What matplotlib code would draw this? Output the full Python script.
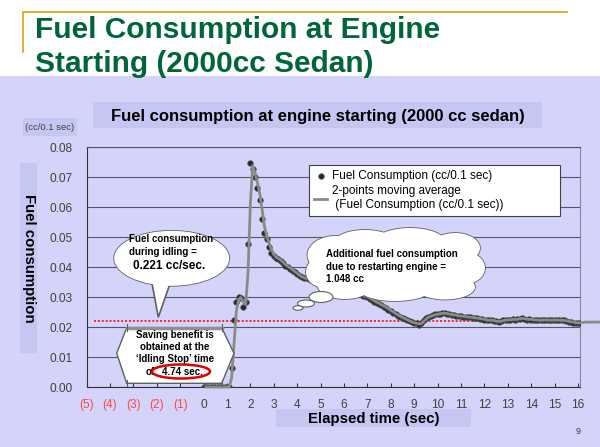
import numpy as np
import pandas as pd
import matplotlib
matplotlib.use('Agg')
import matplotlib.pyplot as plt
from matplotlib.patches import Rectangle, Ellipse, Polygon

plt.rcParams['font.family'] = ['Liberation Sans', 'DejaVu Sans']

# fuel consumption per 0.1 sec sample, starting at t = 0.0 s
fuel = [
    0, 0, 0, 0, 0, 0, 0, 0, 0, 0, 0, 0,                                   # 0.0 - 1.1
    0.0062, 0.0222, 0.0284, 0.0300, 0.0296, 0.0268, 0.0284, 0.0477,       # 1.2 - 1.9
    0.0748, 0.0728, 0.0700, 0.0665, 0.0625, 0.0560, 0.0512, 0.0492, 0.0468, 0.0448,  # 2.x
    0.0437, 0.0430, 0.0426, 0.0420, 0.0412, 0.0405, 0.0400, 0.0394, 0.0388, 0.0382,  # 3.x
    0.0376, 0.0370, 0.0366, 0.0362, 0.0362, 0.0360, 0.0358, 0.0355, 0.0354, 0.0353,  # 4.x
    0.0352, 0.0351, 0.0350, 0.0349, 0.0347, 0.0345, 0.0343, 0.0340, 0.0337, 0.0334,  # 5.x
    0.0331, 0.0328, 0.0325, 0.0322, 0.0319, 0.0316, 0.0312, 0.0309, 0.0305, 0.0302,  # 6.x
    0.0299, 0.0294, 0.0290, 0.0285, 0.0281, 0.0277, 0.0272, 0.0268, 0.0264, 0.0258,  # 7.x
    0.0253, 0.0248, 0.0243, 0.0238, 0.0234, 0.0230, 0.0226, 0.0222, 0.0219, 0.0216,  # 8.x
    0.0212, 0.0214, 0.0207, 0.0215, 0.0222, 0.0230, 0.0235, 0.0236, 0.0240, 0.0242,  # 9.x
    0.0243, 0.0245, 0.0246, 0.0246, 0.0244, 0.0242, 0.0241, 0.0240, 0.0238, 0.0236,  # 10.x
    0.0237, 0.0235, 0.0234, 0.0233, 0.0232, 0.0231, 0.0230, 0.0229, 0.0228, 0.0227,  # 11.x
    0.0224, 0.0223, 0.0222, 0.0224, 0.0220, 0.0219, 0.0218, 0.0220, 0.0222, 0.0224,  # 12.x
    0.0223, 0.0225, 0.0226, 0.0224, 0.0227, 0.0228, 0.0229, 0.0227, 0.0225, 0.0226,  # 13.x
    0.0225, 0.0224, 0.0223, 0.0223, 0.0222, 0.0224, 0.0223, 0.0224, 0.0222, 0.0223,  # 14.x
    0.0224, 0.0223, 0.0222, 0.0223, 0.0222, 0.0220, 0.0218, 0.0217, 0.0215, 0.0214,  # 15.x
    0.0213, 0.0214, 0.0216, 0.0217, 0.0216, 0.0216, 0.0217, 0.0216, 0.0216, 0.0217,  # 16.x
    0.0216,                                                                # 17.0
]
sample_step = 0.1
idle_rate = 0.0221          # cc per 0.1 sec (0.221 cc/sec)
tick_pos = list(range(-5, 17))
tick_labels = ['(5)', '(4)', '(3)', '(2)', '(1)'] + [str(i) for i in range(17)]

df = pd.DataFrame({'fuel': fuel})
df['t'] = df.index * sample_step
df['ma'] = df['fuel'].rolling(2).mean()

BG = '#D4D4FA'
BOX = '#C6C6F2'
GREEN = '#00663A'

fig = plt.figure(figsize=(6, 4.47), dpi=100, facecolor='white')

# slide background, in pixel coordinates
bg = fig.add_axes([0, 0, 1, 1], zorder=0)
bg.set_xlim(0, 600)
bg.set_ylim(447, 0)
bg.axis('off')
bg.add_patch(Rectangle((0, 76), 600, 371, fc=BG, ec='none'))
bg.plot([22.7, 22.7, 567], [52, 11.7, 11.7], color='#E0A000', lw=1.2)
bg.text(35, 37.5, 'Fuel Consumption at Engine', fontsize=21.5, fontweight='bold',
        color=GREEN, va='baseline')
bg.text(35, 72, 'Starting (2000cc Sedan)', fontsize=21.5, fontweight='bold',
        color=GREEN, va='baseline')
bg.add_patch(Rectangle((93, 102), 449, 26, fc=BOX, ec='none'))
bg.text(318, 116, 'Fuel consumption at engine starting (2000 cc sedan)',
        fontsize=12, fontweight='bold', ha='center', va='center')
bg.add_patch(Rectangle((23, 118), 54, 18, fc=BOX, ec='none'))
bg.text(50, 128, '(cc/0.1 sec)', fontsize=6.8, color='#404040', ha='center',
        va='center', family=['Liberation Sans Narrow', 'Liberation Sans'])
bg.add_patch(Rectangle((20, 163), 17, 190, fc=BOX, ec='none'))
bg.text(29, 258, 'Fuel consumption', fontsize=10.8, fontweight='bold',
        rotation=-90, ha='center', va='center')
bg.add_patch(Rectangle((276, 409), 195, 18, fc=BOX, ec='none'))
bg.text(374, 419, 'Elapsed time (sec)', fontsize=10.8, fontweight='bold',
        ha='center', va='center')
bg.text(578, 432, '9', fontsize=6.5, color='#404040', ha='center', va='center')

# chart
ax = fig.add_axes([86.5 / 600, 60 / 447, (580 - 86.5) / 600, 240 / 447], zorder=2)
ax.patch.set_alpha(0)
ax.set_xlim(-5, 16.08)
ax.set_ylim(0, 0.08)
ax.set_yticks(np.arange(0, 0.081, 0.01))
ax.set_yticklabels(['%.2f' % v for v in np.arange(0, 0.081, 0.01)])
ax.set_xticks(tick_pos)
ax.set_xticklabels(tick_labels)
for lab, p in zip(ax.get_xticklabels(), tick_pos):
    lab.set_color('#FF4848' if p < 0 else '#404040')
ax.tick_params(axis='x', direction='in', length=3, labelsize=8.6, pad=8.5, color='#333333')
ax.tick_params(axis='y', direction='out', length=0, labelsize=8.6, pad=10, labelcolor='#404040')
ax.grid(axis='y', color='#555566', lw=0.8)
ax.set_axisbelow(True)
for s in ['left', 'bottom']:
    ax.spines[s].set_color('#333333')
ax.spines['right'].set_color('#888899')
ax.spines['top'].set_color('#555566')
ax.spines['top'].set_linewidth(0.8)

ax.plot([-4.7, 15.8], [idle_rate, idle_rate], color='#FF2020', lw=1.4,
        ls=(0, (1, 1)), zorder=2)
pts = ax.scatter(df['t'], df['fuel'], s=16, c='#2A2A2A', edgecolors='#555555',
                 linewidths=0.5, zorder=3)
ma_line, = ax.plot(df['t'], df['ma'], color='#8A8A8A', lw=2, zorder=4, clip_on=False)

leg = ax.legend([pts, ma_line],
                ['Fuel Consumption (cc/0.1 sec)',
                 '2-points moving average\n (Fuel Consumption (cc/0.1 sec))'],
                loc='upper left',
                bbox_to_anchor=(309 / 600, 1 - 218 / 447, 251 / 600, 53 / 447),
                bbox_transform=fig.transFigure, mode='expand', borderaxespad=0,
                fontsize=8.5, frameon=True, fancybox=False, framealpha=1,
                edgecolor='#404040', handlelength=1.1, handletextpad=0.4,
                borderpad=0.45, labelspacing=0.25, scatterpoints=1)
leg.get_frame().set_linewidth(0.8)
leg.set_zorder(10)

# callouts, in pixel coordinates
ov = fig.add_axes([0, 0, 1, 1], zorder=5)
ov.set_xlim(0, 600)
ov.set_ylim(447, 0)
ov.axis('off')
ov.patch.set_alpha(0)
EDGE = '#606060'

# speech bubble
ov.add_patch(Ellipse((171.7, 258.3), 115, 55, fc='white', ec=EDGE, lw=1.2, zorder=1))
ov.add_patch(Polygon([(151, 278), (158.3, 317.3), (172, 278)], closed=True,
                     fc='white', ec=EDGE, lw=1.2, zorder=2))
ov.add_patch(Ellipse((171.7, 258.3), 115, 55, fc='white', ec='none', zorder=3))
ov.text(129, 239, 'Fuel consumption', fontsize=7, fontweight='bold', va='center', zorder=4)
ov.text(129, 252, 'during idling =', fontsize=7, fontweight='bold', va='center', zorder=4)
ov.text(169.5, 266, '0.221 cc/sec.', fontsize=8.5, fontweight='bold', ha='center',
        va='center', zorder=4)

# saving benefit arrow box
ov.add_patch(Polygon([(116.7, 353.3), (126.7, 327.7), (221.7, 327.7), (234, 353.3),
                      (221.7, 383.3), (126.7, 383.3)], closed=True, fc='white',
                     ec=EDGE, lw=1, zorder=1))
ov.plot([126.7, 221.7], [327.7, 327.7], color='#909090', lw=2.5, zorder=2)
for x in (126.7, 221.7):
    ov.plot([x, x], [324, 331], color='#606060', lw=0.8, zorder=2)
    ov.plot([x, x], [380, 386], color='#606060', lw=0.8, zorder=2)
for y, s in [(335, 'Saving benefit is'), (347, 'obtained at the'),
             (358.5, '\u2018Idling Stop\u2019 time')]:
    ov.text(175, y, s, fontsize=7, fontweight='bold', ha='center', va='center', zorder=3)
ov.text(146, 372, 'of', fontsize=7, fontweight='bold', va='center', zorder=3)
ov.add_patch(Ellipse((181, 371.5), 58, 14, fc='white', ec='#E00000', lw=1.8, zorder=4))
ov.text(182, 372, '4.74 sec.', fontsize=7, fontweight='bold', ha='center',
        va='center', zorder=5)

# thought cloud
bumps = [(395, 266, 150, 55), (335, 255, 55, 38), (322, 272, 32, 30),
         (345, 285, 55, 28), (395, 290, 70, 22), (445, 287, 60, 25),
         (465, 268, 40, 32), (455, 248, 50, 30), (410, 242, 70, 28),
         (365, 242, 60, 24)]
for cx, cy, w, h in bumps:
    ov.add_patch(Ellipse((cx, cy), w, h, fc='white', ec=EDGE, lw=1.2, zorder=1))
for cx, cy, w, h in bumps:
    ov.add_patch(Ellipse((cx, cy), w, h, fc='white', ec='none', zorder=2))
for cx, cy, w, h in [(321, 297, 24, 11), (306, 303.5, 17, 7), (298, 308, 10, 4.5)]:
    ov.add_patch(Ellipse((cx, cy), w, h, fc='white', ec=EDGE, lw=0.8, zorder=2))
for y, s in [(254, 'Additional fuel consumption'), (267, 'due to restarting engine ='),
             (279, '1.048 cc')]:
    ov.text(326, y, s, fontsize=7, fontweight='bold', va='center', zorder=3)

fig.savefig('out.png', dpi=100)
